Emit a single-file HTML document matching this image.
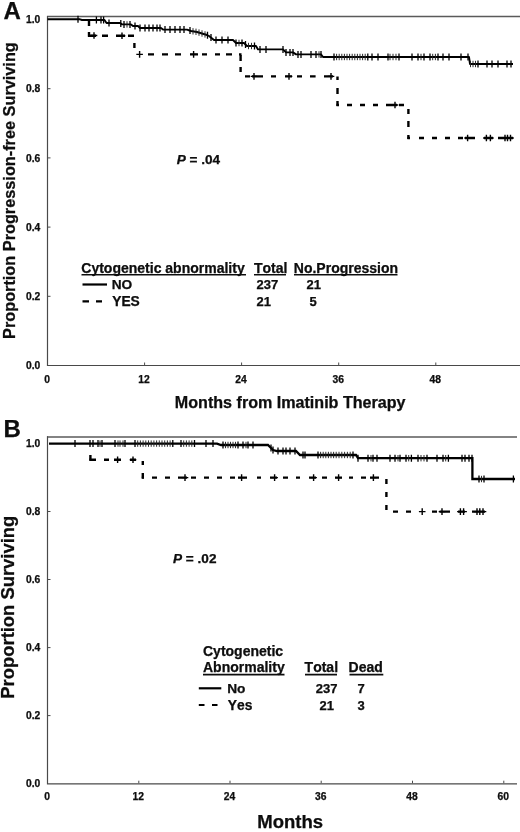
<!DOCTYPE html>
<html><head><meta charset="utf-8"><title>Figure</title>
<style>html,body{margin:0;padding:0;background:#fff}svg{display:block}text{font-kerning:none;fill:#0a0a0a;stroke:#0a0a0a;stroke-width:0.25px}</style></head>
<body><svg width="520" height="832" viewBox="0 0 520 832">
<defs><filter id="soft" x="0" y="0" width="100%" height="100%" filterUnits="userSpaceOnUse"><feGaussianBlur stdDeviation="0.3"/></filter></defs>
<rect width="520" height="832" fill="#fff"/>
<g filter="url(#soft)">
<path d="M47,16.4H520" stroke="#5a5a5a" stroke-width="1.5" fill="none"/>
<path d="M47.5,16V366M47,365.5H520" stroke="#4a4a4a" stroke-width="1.2" fill="none"/>
<text x="40.3" y="23.1" text-anchor="end" font-size="10.3" font-family="Liberation Sans, Arial, sans-serif" font-weight="bold">1.0</text>
<path d="M48,88.7H50.5" stroke="#4a4a4a" stroke-width="1" fill="none"/>
<text x="40.3" y="92.3" text-anchor="end" font-size="10.3" font-family="Liberation Sans, Arial, sans-serif" font-weight="bold">0.8</text>
<path d="M48,157.9H50.5" stroke="#4a4a4a" stroke-width="1" fill="none"/>
<text x="40.3" y="161.5" text-anchor="end" font-size="10.3" font-family="Liberation Sans, Arial, sans-serif" font-weight="bold">0.6</text>
<path d="M48,227.1H50.5" stroke="#4a4a4a" stroke-width="1" fill="none"/>
<text x="40.3" y="230.7" text-anchor="end" font-size="10.3" font-family="Liberation Sans, Arial, sans-serif" font-weight="bold">0.4</text>
<path d="M48,296.3H50.5" stroke="#4a4a4a" stroke-width="1" fill="none"/>
<text x="40.3" y="299.9" text-anchor="end" font-size="10.3" font-family="Liberation Sans, Arial, sans-serif" font-weight="bold">0.2</text>
<text x="40.3" y="369.1" text-anchor="end" font-size="10.3" font-family="Liberation Sans, Arial, sans-serif" font-weight="bold">0.0</text>
<text x="47.0" y="382.7" text-anchor="middle" font-size="10.3" font-family="Liberation Sans, Arial, sans-serif" font-weight="bold">0</text>
<path d="M144.6,362.5V365" stroke="#4a4a4a" stroke-width="1" fill="none"/>
<text x="144.1" y="382.7" text-anchor="middle" font-size="10.3" font-family="Liberation Sans, Arial, sans-serif" font-weight="bold">12</text>
<path d="M241.6,362.5V365" stroke="#4a4a4a" stroke-width="1" fill="none"/>
<text x="241.1" y="382.7" text-anchor="middle" font-size="10.3" font-family="Liberation Sans, Arial, sans-serif" font-weight="bold">24</text>
<path d="M338.7,362.5V365" stroke="#4a4a4a" stroke-width="1" fill="none"/>
<text x="338.2" y="382.7" text-anchor="middle" font-size="10.3" font-family="Liberation Sans, Arial, sans-serif" font-weight="bold">36</text>
<path d="M435.8,362.5V365" stroke="#4a4a4a" stroke-width="1" fill="none"/>
<text x="435.2" y="382.7" text-anchor="middle" font-size="10.3" font-family="Liberation Sans, Arial, sans-serif" font-weight="bold">48</text>
<text x="290.2" y="407.5" text-anchor="middle" font-size="16.1" font-family="Liberation Sans, Arial, sans-serif" font-weight="bold">Months from Imatinib Therapy</text>
<text transform="translate(15,190.6) rotate(-90)" text-anchor="middle" font-size="16.3" font-family="Liberation Sans, Arial, sans-serif" font-weight="bold">Proportion Progression-free Surviving</text>
<text x="3.6" y="18.7" font-size="24" font-family="Liberation Sans, Arial, sans-serif" font-weight="bold">A</text>
<text x="176.7" y="163.7" font-size="13.6" font-family="Liberation Sans, Arial, sans-serif" font-weight="bold"><tspan font-style="italic">P</tspan> = .04</text>
<text x="81.3" y="272.5" font-size="14" font-family="Liberation Sans, Arial, sans-serif" font-weight="bold" id="t25">Cytogenetic abnormality</text>
<text x="254" y="272.5" font-size="14" font-family="Liberation Sans, Arial, sans-serif" font-weight="bold" id="t26">Total</text>
<text x="293.8" y="272.5" font-size="14" font-family="Liberation Sans, Arial, sans-serif" font-weight="bold" id="t27">No.Progression</text>
<path d="M81.5,274.7H246M254,274.7H286M294,274.7H397.5" stroke="#111" stroke-width="1.6" fill="none"/>
<path d="M82.5,284.5H107" stroke="#000" stroke-width="2.2" fill="none"/>
<path d="M82.5,301.3H89M96,301.3H102" stroke="#000" stroke-width="2.2" fill="none"/>
<text x="111.7" y="289" font-size="13.7" font-family="Liberation Sans, Arial, sans-serif" font-weight="bold">NO</text>
<text x="112.2" y="306" font-size="13.8" font-family="Liberation Sans, Arial, sans-serif" font-weight="bold">YES</text>
<text x="256.6" y="289" font-size="13" font-family="Liberation Sans, Arial, sans-serif" font-weight="bold">237</text>
<text x="256.6" y="306" font-size="13" font-family="Liberation Sans, Arial, sans-serif" font-weight="bold">21</text>
<text x="306.6" y="289" font-size="13" font-family="Liberation Sans, Arial, sans-serif" font-weight="bold">21</text>
<text x="309.6" y="306" font-size="13" font-family="Liberation Sans, Arial, sans-serif" font-weight="bold">5</text>
<path d="M47.5,19.3 L80,19.3 L82,20 L104.5,20 L106.5,23 L120,23 L122,24.4 L131,24.4 L133,26 L138,26 L140,28 L161,28 L163,29.6 L187,29.6 L191,31 L197,32 L202,33.5 L207,35 L209,36 L214,40 L233,40 L236,43 L244,43 L247,46 L256,46 L258,49.4 L283,49.4 L286,52.4 L293,52.4 L296,54.4 L321,54.4 L323,57 L469,57 L470,64 L513,64" fill="none" stroke="#000" stroke-width="1.9" stroke-linejoin="round"/>
<path d="M78,15.8V22.8M96.4,16.5V23.5M101,16.5V23.5M103.6,16.5V23.5M109,19.5V26.5M120.8,20.1V27.1M124,20.9V27.9M130,20.9V27.9M135,22.5V29.5M140,24.5V31.5M145,24.5V31.5M149,24.5V31.5M153,24.5V31.5M157,24.5V31.5M160,24.5V31.5M165,26.1V33.1M170,26.1V33.1M175,26.1V33.1M180,26.1V33.1M184,26.1V33.1M190,27.1V34.1M207.5,31.8V38.8M211,34.1V41.1M216,36.5V43.5M222,36.5V43.5M228,36.5V43.5M236,39.5V46.5M242,39.5V46.5M245.5,41.0V48.0M254.5,42.5V49.5M260,45.9V52.9M266,45.9V52.9M283,45.9V52.9M286,48.9V55.9M290,48.9V55.9M293,48.9V55.9M298,50.9V57.9M301,50.9V57.9M311,50.9V57.9M316,50.9V57.9M321,50.9V57.9M334,53.5V60.5M367.8,53.5V60.5M372,53.5V60.5M378,53.5V60.5M388,53.5V60.5M399,53.5V60.5M412,53.5V60.5M418,53.5V60.5M424,53.5V60.5M430,53.5V60.5M438,53.5V60.5M443,53.5V60.5M449,53.5V60.5M461,53.5V60.5M468,53.5V60.5M478,60.5V67.5M487,60.5V67.5M492,60.5V67.5M498,60.5V67.5M507,60.5V67.5M511,60.5V67.5" fill="none" stroke="#000" stroke-width="1.3"/>
<path d="M127,21.2V27.6M193,28.1V34.5M196,28.6V35.0M199,29.4V35.8M202,30.3V36.7M205,31.2V37.6M239,39.8V46.2M248.5,42.8V49.2M251.5,42.8V49.2M319,51.2V57.6M336.6,53.8V60.2M339.2,53.8V60.2M341.8,53.8V60.2M344.4,53.8V60.2M347.0,53.8V60.2M349.6,53.8V60.2M352.2,53.8V60.2M354.8,53.8V60.2M357.4,53.8V60.2M360.0,53.8V60.2M362.6,53.8V60.2M365.2,53.8V60.2M390,53.8V60.2M393,53.8V60.2M396,53.8V60.2M421,53.8V60.2M432.7,53.8V60.2M435.4,53.8V60.2M470.5,60.8V67.2M473,60.8V67.2M475.5,60.8V67.2" fill="none" stroke="#222" stroke-width="0.95"/>
<path d="M89,21V26M89,32V36.8" fill="none" stroke="#000" stroke-width="2.4"/>
<path d="M88,35.7H96M102,35.7H108M116,35.7H125M128,35.7H134" fill="none" stroke="#000" stroke-width="2.4"/>
<path d="M134.4,43V48" fill="none" stroke="#000" stroke-width="2.4"/>
<path d="M148,54.4H154M162,54.4H168M175,54.4H181M190,54.4H198M202,54.4H207M215,54.4H220M226,54.4H232M239,54.4H241.5" fill="none" stroke="#000" stroke-width="2.4"/>
<path d="M240.6,55V61M240.6,67V72" fill="none" stroke="#000" stroke-width="2.4"/>
<path d="M245,76.4H250M252,76.4H263M271,76.4H276M285,76.4H292M297,76.4H302M310,76.4H315.6M324,76.4H333" fill="none" stroke="#000" stroke-width="2.4"/>
<path d="M337.5,76.4V80M337.5,88V94M337.5,101V106" fill="none" stroke="#000" stroke-width="2.4"/>
<path d="M336.5,105H339M347,105H352M360,105H365M373,105H378M386,105H397M399,105H404" fill="none" stroke="#000" stroke-width="2.4"/>
<path d="M408.4,109V114M408.4,121V127M408.4,135V139" fill="none" stroke="#000" stroke-width="2.4"/>
<path d="M407.4,138H410M419,138H424M432,138H437M445,138H450M458,138H463M465,138H475M484,138H493M498,138H513" fill="none" stroke="#000" stroke-width="2.4"/>
<path d="M94,32.2V38.8M90.7,35.5H97.3M122,32.400000000000006V39.0M118.7,35.7H125.3M139.6,51.1V57.699999999999996M136.29999999999998,54.4H142.9M193.6,51.1V57.699999999999996M190.29999999999998,54.4H196.9M254,73.10000000000001V79.7M250.7,76.4H257.3M289,73.10000000000001V79.7M285.7,76.4H292.3M331,73.10000000000001V79.7M327.7,76.4H334.3M395,101.7V108.3M391.7,105H398.3M467.6,134.7V141.3M464.3,138H470.90000000000003M486.4,134.7V141.3M483.09999999999997,138H489.7M490.4,134.7V141.3M487.09999999999997,138H493.7M505,134.7V141.3M501.7,138H508.3M507.5,134.7V141.3M504.2,138H510.8M510.5,134.7V141.3M507.2,138H513.8" fill="none" stroke="#000" stroke-width="1.4"/>
<path d="M47,436.9H517" stroke="#5a5a5a" stroke-width="1.5" fill="none"/>
<path d="M47.5,436.3V784.5M47,783.9H517" stroke="#4a4a4a" stroke-width="1.2" fill="none"/>
<text x="40.3" y="447.1" text-anchor="end" font-size="10.3" font-family="Liberation Sans, Arial, sans-serif" font-weight="bold">1.0</text>
<path d="M48,511.5H50.5" stroke="#4a4a4a" stroke-width="1" fill="none"/>
<text x="40.3" y="515.1" text-anchor="end" font-size="10.3" font-family="Liberation Sans, Arial, sans-serif" font-weight="bold">0.8</text>
<path d="M48,579.5H50.5" stroke="#4a4a4a" stroke-width="1" fill="none"/>
<text x="40.3" y="583.1" text-anchor="end" font-size="10.3" font-family="Liberation Sans, Arial, sans-serif" font-weight="bold">0.6</text>
<path d="M48,647.6H50.5" stroke="#4a4a4a" stroke-width="1" fill="none"/>
<text x="40.3" y="651.2" text-anchor="end" font-size="10.3" font-family="Liberation Sans, Arial, sans-serif" font-weight="bold">0.4</text>
<path d="M48,715.6H50.5" stroke="#4a4a4a" stroke-width="1" fill="none"/>
<text x="40.3" y="719.2" text-anchor="end" font-size="10.3" font-family="Liberation Sans, Arial, sans-serif" font-weight="bold">0.2</text>
<text x="40.3" y="787.2" text-anchor="end" font-size="10.3" font-family="Liberation Sans, Arial, sans-serif" font-weight="bold">0.0</text>
<text x="47.0" y="800.2" text-anchor="middle" font-size="10.3" font-family="Liberation Sans, Arial, sans-serif" font-weight="bold">0</text>
<path d="M138.8,780.7V783.2" stroke="#4a4a4a" stroke-width="1" fill="none"/>
<text x="138.2" y="800.2" text-anchor="middle" font-size="10.3" font-family="Liberation Sans, Arial, sans-serif" font-weight="bold">12</text>
<path d="M230.0,780.7V783.2" stroke="#4a4a4a" stroke-width="1" fill="none"/>
<text x="229.5" y="800.2" text-anchor="middle" font-size="10.3" font-family="Liberation Sans, Arial, sans-serif" font-weight="bold">24</text>
<path d="M321.2,780.7V783.2" stroke="#4a4a4a" stroke-width="1" fill="none"/>
<text x="320.8" y="800.2" text-anchor="middle" font-size="10.3" font-family="Liberation Sans, Arial, sans-serif" font-weight="bold">36</text>
<path d="M412.5,780.7V783.2" stroke="#4a4a4a" stroke-width="1" fill="none"/>
<text x="412.0" y="800.2" text-anchor="middle" font-size="10.3" font-family="Liberation Sans, Arial, sans-serif" font-weight="bold">48</text>
<path d="M503.8,780.7V783.2" stroke="#4a4a4a" stroke-width="1" fill="none"/>
<text x="503.2" y="800.2" text-anchor="middle" font-size="10.3" font-family="Liberation Sans, Arial, sans-serif" font-weight="bold">60</text>
<text x="290.2" y="827.5" text-anchor="middle" font-size="18.5" font-family="Liberation Sans, Arial, sans-serif" font-weight="bold">Months</text>
<text transform="translate(13.9,607.2) rotate(-90)" text-anchor="middle" font-size="18.4" font-family="Liberation Sans, Arial, sans-serif" font-weight="bold">Proportion Surviving</text>
<text x="3.6" y="437" font-size="24" font-family="Liberation Sans, Arial, sans-serif" font-weight="bold">B</text>
<text x="173" y="563" font-size="13.6" font-family="Liberation Sans, Arial, sans-serif" font-weight="bold"><tspan font-style="italic">P</tspan> = .02</text>
<text x="203" y="655.5" font-size="14" font-family="Liberation Sans, Arial, sans-serif" font-weight="bold" id="t78">Cytogenetic</text>
<text x="203" y="672" font-size="14" font-family="Liberation Sans, Arial, sans-serif" font-weight="bold" id="t79">Abnormality</text>
<text x="304.6" y="672" font-size="14" font-family="Liberation Sans, Arial, sans-serif" font-weight="bold" id="t80">Total</text>
<text x="348.6" y="672" font-size="14" font-family="Liberation Sans, Arial, sans-serif" font-weight="bold" id="t81">Dead</text>
<path d="M203,674.6H284.5M305,674.6H337M349.5,674.6H383.3" stroke="#111" stroke-width="1.6" fill="none"/>
<path d="M198.8,688.3H221.3" stroke="#000" stroke-width="2.2" fill="none"/>
<path d="M198.8,705H204.5M212,705H217.5" stroke="#000" stroke-width="2.2" fill="none"/>
<text x="227.2" y="693" font-size="13.7" font-family="Liberation Sans, Arial, sans-serif" font-weight="bold">No</text>
<text x="227.8" y="709.5" font-size="13.8" font-family="Liberation Sans, Arial, sans-serif" font-weight="bold">Yes</text>
<text x="315.8" y="693" font-size="13" font-family="Liberation Sans, Arial, sans-serif" font-weight="bold">237</text>
<text x="319.6" y="709.5" font-size="13" font-family="Liberation Sans, Arial, sans-serif" font-weight="bold">21</text>
<text x="357.6" y="693" font-size="13" font-family="Liberation Sans, Arial, sans-serif" font-weight="bold">7</text>
<text x="357.6" y="709.5" font-size="13" font-family="Liberation Sans, Arial, sans-serif" font-weight="bold">3</text>
<path d="M49,443.6 L217,443.6 L221,445 L268,445 L270,447 L273,450 L277,451 L296,451 L300,455 L356,455 L358,458.2 L472.4,458.2 L472.4,479 L515,479" fill="none" stroke="#000" stroke-width="2.3" stroke-linejoin="miter"/>
<path d="M75,440.1V447.1M90,440.1V447.1M93,440.1V447.1M98,440.1V447.1M102,440.1V447.1M115,440.1V447.1M125,440.1V447.1M135,440.1V447.1M172.8,440.1V447.1M181,440.1V447.1M194.5,440.1V447.1M206,440.1V447.1M213,440.1V447.1M223,441.5V448.5M238.0,441.5V448.5M243,441.5V448.5M248,441.5V448.5M253,441.5V448.5M271,444.5V451.5M273,446.5V453.5M278,447.5V454.5M283,447.5V454.5M286,447.5V454.5M290,447.5V454.5M295,447.5V454.5M303,451.5V458.5M305,451.5V458.5M318,451.5V458.5M353.0,451.5V458.5M358,454.7V461.7M368,454.7V461.7M373,454.7V461.7M377,454.7V461.7M390,454.7V461.7M395,454.7V461.7M400,454.7V461.7M406,454.7V461.7M411.4,454.7V461.7M418,454.7V461.7M427,454.7V461.7M437,454.7V461.7M443,454.7V461.7M448.4,454.7V461.7M462,454.7V461.7M465,454.7V461.7M469,454.7V461.7M472,454.7V461.7M479,475.5V482.5M484,475.5V482.5M513.4,475.5V482.5" fill="none" stroke="#000" stroke-width="1.3"/>
<path d="M100,440.4V446.8M118,440.4V446.8M120,440.4V446.8M123,440.4V446.8M137.7,440.4V446.8M140.4,440.4V446.8M143.1,440.4V446.8M145.8,440.4V446.8M148.5,440.4V446.8M151.2,440.4V446.8M153.9,440.4V446.8M156.6,440.4V446.8M159.3,440.4V446.8M162.0,440.4V446.8M164.7,440.4V446.8M167.4,440.4V446.8M170.1,440.4V446.8M183.7,440.4V446.8M186.4,440.4V446.8M189.1,440.4V446.8M191.8,440.4V446.8M225.5,441.8V448.2M228.0,441.8V448.2M230.5,441.8V448.2M233.0,441.8V448.2M235.5,441.8V448.2M246,441.8V448.2M320.6,451.8V458.2M323.2,451.8V458.2M325.8,451.8V458.2M328.4,451.8V458.2M331.0,451.8V458.2M333.6,451.8V458.2M336.2,451.8V458.2M339,451.8V458.2M341.8,451.8V458.2M344.6,451.8V458.2M347.4,451.8V458.2M350.2,451.8V458.2M371,455.0V461.4M398,455.0V461.4M408.7,455.0V461.4M421,455.0V461.4M424,455.0V461.4M445.7,455.0V461.4M481.5,475.8V482.2" fill="none" stroke="#222" stroke-width="0.95"/>
<path d="M90.4,455V460.6" fill="none" stroke="#000" stroke-width="2.4"/>
<path d="M89.4,459.8H96M104,459.8H109M114,459.8H121M130,459.8H136" fill="none" stroke="#000" stroke-width="2.4"/>
<path d="M142.8,461V465M142.8,473V478.6" fill="none" stroke="#000" stroke-width="2.4"/>
<path d="M141.8,477.6H144M152,477.6H157M165,477.6H170M178,477.6H187M191,477.6H196M204,477.6H209M217,477.6H222M230,477.6H235M238,477.6H247M257,477.6H261M270,477.6H277M283,477.6H288M296,477.6H300M309,477.6H316M322,477.6H327M335,477.6H342M349,477.6H353M361,477.6H366M370,477.6H379" fill="none" stroke="#000" stroke-width="2.4"/>
<path d="M386.4,479V484M386.4,492V497M386.4,505V510" fill="none" stroke="#000" stroke-width="2.4"/>
<path d="M393,511.6H398M406,511.6H411M432,511.6H437M439.5,511.6H450M458,511.6H465M472,511.6H485" fill="none" stroke="#000" stroke-width="2.4"/>
<path d="M117.6,456.5V463.1M114.3,459.8H120.89999999999999M133,456.5V463.1M129.7,459.8H136.3M185,474.3V480.90000000000003M181.7,477.6H188.3M241.6,474.3V480.90000000000003M238.29999999999998,477.6H244.9M274.6,474.3V480.90000000000003M271.3,477.6H277.90000000000003M313.6,474.3V480.90000000000003M310.3,477.6H316.90000000000003M338.6,474.3V480.90000000000003M335.3,477.6H341.90000000000003M373.4,474.3V480.90000000000003M370.09999999999997,477.6H376.7M422.2,508.3V514.9M418.9,511.6H425.5M442,508.3V514.9M438.7,511.6H445.3M460.4,508.3V514.9M457.09999999999997,511.6H463.7M463.6,508.3V514.9M460.3,511.6H466.90000000000003M477,508.3V514.9M473.7,511.6H480.3M479.8,508.3V514.9M476.5,511.6H483.1M483,508.3V514.9M479.7,511.6H486.3" fill="none" stroke="#000" stroke-width="1.4"/>
</g>
</svg></body></html>
